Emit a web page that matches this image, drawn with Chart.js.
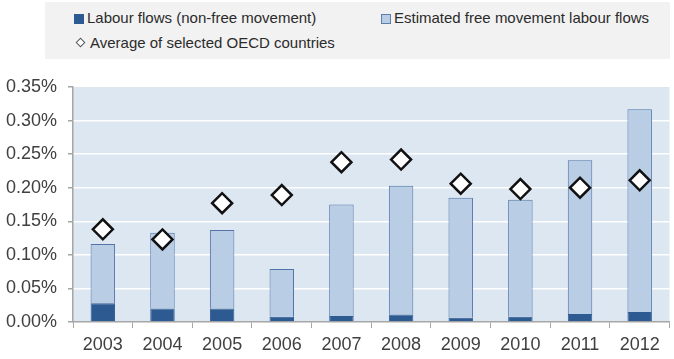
<!DOCTYPE html>
<html>
<head>
<meta charset="utf-8">
<script src="https://cdn.jsdelivr.net/npm/chart.js@4"></script>
<style>
  html, body { margin: 0; padding: 0; background: #fff; overflow: hidden; width: 674px; height: 359px; }
  #wrap { position: relative; width: 674px; height: 359px; }
  #chart { position: absolute; left: 0; top: 0; }
  #legend { position: absolute; left: 45px; top: 2px; width: 625px; height: 57px; background: #f2f2f2;
            font-family: "Liberation Sans", Arial, sans-serif; font-size: 15px; color: #2b2b2b; }
  .item { position: absolute; white-space: nowrap; line-height: 18px; }
  .box { display: inline-block; width: 10px; height: 10px; margin-right: 3px; vertical-align: -1px; box-sizing: border-box; }
  .dia { display: inline-block; width: 5px; height: 5px; border: 1px solid #555; background: #fff;
         transform: rotate(45deg); margin: 0 6px 0 3px; vertical-align: 2px; }
</style>
</head>
<body>
<div id="wrap">
  <canvas id="chart" width="682" height="359"></canvas>
  <div id="legend">
    <div class="item" style="left:29px; top:7px;"><span class="box" style="background:#2e5a92;"></span>Labour flows (non-free movement)</div>
    <div class="item" style="left:336px; top:7px;"><span class="box" style="background:#b9cde5; border:1px solid #5b7db0;"></span>Estimated free movement labour flows</div>
    <div class="item" style="left:29px; top:32px;"><span class="dia"></span>Average of selected OECD countries</div>
  </div>
</div>
<script>
// years and series (in % of population)
const years = ['2003', '2004', '2005', '2006', '2007', '2008', '2009', '2010', '2011', '2012'];
const nonFree = [0.028, 0.020, 0.020, 0.008, 0.009, 0.011, 0.0065, 0.008, 0.012, 0.015];
const freeMovement = [0.088, 0.113, 0.117, 0.071, 0.166, 0.192, 0.1785, 0.174, 0.229, 0.302];
const oecdAverage = [0.138, 0.123, 0.177, 0.189, 0.238, 0.242, 0.206, 0.198, 0.200, 0.211];
const yTicks = [0, 0.05, 0.10, 0.15, 0.20, 0.25, 0.30, 0.35];

// light blue plot background
const plotBg = {
    id: 'plotBg',
    beforeDraw(chart) {
        const a = chart.chartArea;
        const ctx = chart.ctx;
        ctx.save();
        ctx.fillStyle = '#dde7f2';
        ctx.fillRect(a.left, a.top, a.right - a.left, a.bottom - a.top);
        ctx.restore();
    }
};

const ctx = document.getElementById('chart').getContext('2d');
const myChart = new Chart(ctx, {
    type: 'bar',
    data: {
        labels: years,
        datasets: [{
            type: 'line',
            label: 'Average of selected OECD countries',
            data: oecdAverage,
            showLine: false,
            stack: 'oecd',
            pointStyle: 'rectRot',
            pointRadius: 10,
            pointBackgroundColor: '#ffffff',
            pointBorderColor: '#111111',
            pointBorderWidth: 2.5,
            order: 0
        }, {
            label: 'Labour flows (non-free movement)',
            data: nonFree,
            stack: 'flows',
            backgroundColor: '#2e5a92',
            borderColor: '#2e5a92',
            borderWidth: 1,
            order: 1
        }, {
            label: 'Estimated free movement labour flows',
            data: freeMovement,
            stack: 'flows',
            backgroundColor: '#b9cde5',
            borderColor: '#5274a8',
            borderWidth: 1,
            order: 1
        }]
    },
    options: {
        responsive: false,
        animation: false,
        layout: { padding: { top: 87, left: 0, right: 0, bottom: 0 } },
        categoryPercentage: 1,
        barPercentage: 0.41,
        plugins: {
            legend: { display: false },
            tooltip: { enabled: false }
        },
        scales: {
            x: {
                stacked: true,
                offset: true,
                grid: { offset: true, drawOnChartArea: false, drawTicks: true, tickLength: 6, color: '#a6a6a6' },
                border: { color: '#a6a6a6', width: 1.5 },
                ticks: { color: '#404040', font: { family: 'Liberation Sans', size: 18 }, padding: 6, maxRotation: 0 },
                afterFit(scale) { scale.height = 37; }
            },
            y: {
                stacked: true,
                min: 0,
                max: 0.35,
                afterBuildTicks(scale) { scale.ticks = yTicks.map(v => ({ value: v })); },
                grid: {
                    color: c => (c.tick && c.tick.value > 0 && c.tick.value < 0.35) ? '#ffffff' : 'rgba(0,0,0,0)',
                    lineWidth: 1.5,
                    tickColor: '#a6a6a6',
                    tickLength: 5
                },
                border: { color: '#a6a6a6', width: 1.5 },
                ticks: {
                    color: '#404040',
                    font: { family: 'Liberation Sans', size: 18 },
                    padding: 11,
                    callback: v => v.toFixed(2) + '%'
                },
                afterFit(scale) { scale.width = 73; }
            }
        }
    },
    plugins: [plotBg]
});
</script>
</body>
</html>
